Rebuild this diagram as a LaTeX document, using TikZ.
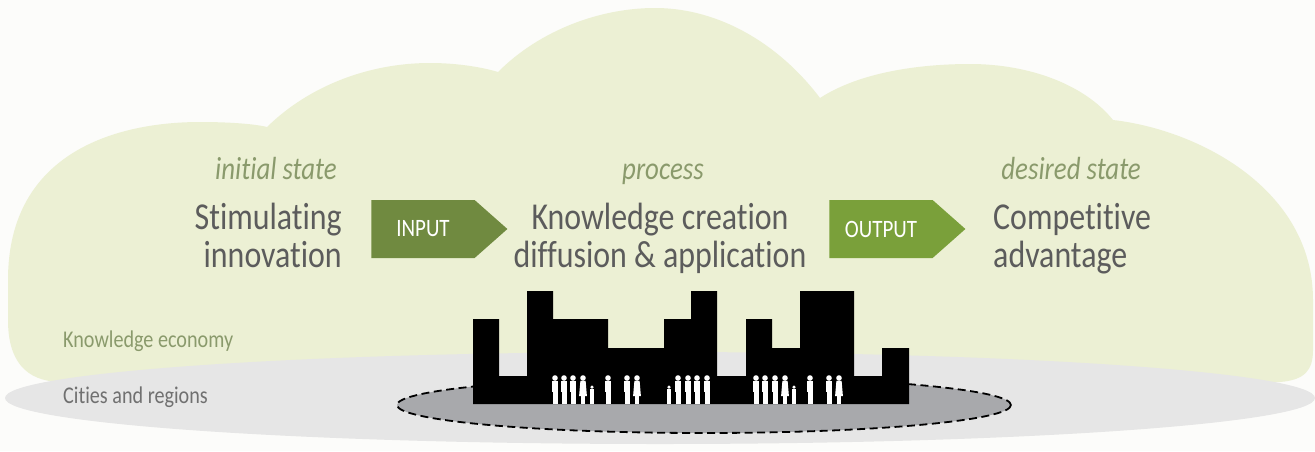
\documentclass[tikz,border=0pt]{standalone}
\usepackage{fontspec}
\setmainfont{Carlito}[FakeStretch=0.84, Ligatures=NoCommon]
\usepackage{tikz}
\usetikzlibrary{shapes,shapes.symbols}
\definecolor{paper}{RGB}{252,252,250}
\definecolor{cloud-green}{RGB}{236,240,212}
\definecolor{ground-grey}{RGB}{230,230,230}
\definecolor{town-grey}{RGB}{168,169,172}
\definecolor{input-green}{RGB}{112,138,64}
\definecolor{output-green}{RGB}{122,160,58}
\definecolor{text-grey}{RGB}{92,92,92}
\definecolor{label-green}{RGB}{138,154,108}
\definecolor{layer-grey}{RGB}{112,112,112}
\tikzstyle{bigtext}=[inner sep=0pt, text=text-grey, font=\fontsize{38}{38}\selectfont]
\tikzstyle{statelabel}=[inner sep=0pt, text=label-green, font=\fontsize{32}{32}\selectfont\itshape]
\tikzstyle{layerlabel}=[inner sep=0pt, font=\fontsize{24}{24}\selectfont]
\tikzstyle{flowarrow}=[signal, signal to=east, signal pointer angle=83, minimum height=58pt, minimum width=136pt, inner sep=0pt, text=white, font=\fontsize{25}{25}\selectfont]
\newcommand{\man}[2]{
	\begin{scope}[shift={(#1,404)},scale=#2]
		\fill[white] (0,-26) circle (2.8);
		\fill[white] (-3.2,-23.2) rectangle (3.2,-12);
		\fill[white] (-2.5,-12.5) rectangle (-0.3,0);
		\fill[white] (0.3,-12.5) rectangle (2.5,0);
	\end{scope}
}
\newcommand{\woman}[2]{
	\begin{scope}[shift={(#1,404)},scale=#2]
		\fill[white] (0,-26) circle (2.8);
		\fill[white] (-2.6,-23.2) -- (2.6,-23.2) -- (3.9,-8) -- (-3.9,-8) -- cycle;
		\fill[white] (-2.1,-8.5) rectangle (-0.4,0);
		\fill[white] (0.4,-8.5) rectangle (2.1,0);
	\end{scope}
}

\begin{document}
\begin{tikzpicture}[x=1pt,y=-1pt]
	\useasboundingbox[fill=paper] (0,0) rectangle (1315,451);
	\fill[cloud-green] (60,382) .. controls (25,381) and (8,360) .. (8,320) -- (8,280)
		.. controls (8,150) and (120,122) .. (200,122)
		.. controls (230,122) and (255,124) .. (267,127)
		.. controls (310,85) and (370,63) .. (430,63)
		.. controls (460,63) and (485,68) .. (498,72)
		.. controls (540,30) and (600,8) .. (655,8)
		.. controls (720,8) and (780,45) .. (820,98)
		.. controls (860,72) and (920,64) .. (970,64)
		.. controls (1030,64) and (1085,85) .. (1113,120)
		.. controls (1200,130) and (1313,190) .. (1313,300)
		-- (1313,350) .. controls (1313,370) and (1305,380) .. (1280,382) -- cycle;
	\fill[ground-grey] (660,398) ellipse (655 and 46);
	\draw[fill=town-grey, dashed, dash pattern=on 8pt off 4.5pt, line width=1.8pt] (704,405) ellipse (307 and 28);
	\fill[black] (473,404) -- (473,319) -- (499,319) -- (499,376) -- (527,376) -- (527,291) -- (553,291) -- (553,319)
		-- (608,319) -- (608,348) -- (664,348) -- (664,319) -- (691,319) -- (691,291) -- (717,291) -- (717,376)
		-- (746,376) -- (746,319) -- (772,319) -- (772,348) -- (800,348) -- (800,291) -- (854,291) -- (854,376)
		-- (882,376) -- (882,348) -- (909,348) -- (909,404) -- cycle;
	\foreach \px in {555,564,573,608,627,678,688,697,707,756,765,775,810,829}
		\man{\px}{1};
	\foreach \px in {583,637,785,839}
		\woman{\px}{1};
	\foreach \px in {592,669,794}
		\man{\px}{0.65};
	\node[statelabel, anchor=base east] (initlbl) at (337,179) {initial state};
	\node[bigtext, align=right, anchor=base east] (initst) at (342,267) {Stimulating\\innovation};
	\node[statelabel, anchor=base] (proclbl) at (663,179) {process};
	\node[bigtext, align=center, anchor=base] (procst) at (660,267) {Knowledge creation\\diffusion \& application};
	\node[statelabel, anchor=base east] (deslbl) at (1141,179) {desired state};
	\node[bigtext, align=left, anchor=base west] (desst) at (993,267) {Competitive\\advantage};
	\node[flowarrow, fill=input-green] (inarrow) at (423,229) {INPUT};
	\node[flowarrow, fill=output-green] (outarrow) at (881,229) {OUTPUT};
	\node[layerlabel, text=label-green, anchor=base west] (econlbl) at (63,347) {Knowledge economy};
	\node[layerlabel, text=layer-grey, anchor=base west] (citylbl) at (63,403) {Cities and regions};
\end{tikzpicture}
\end{document}
